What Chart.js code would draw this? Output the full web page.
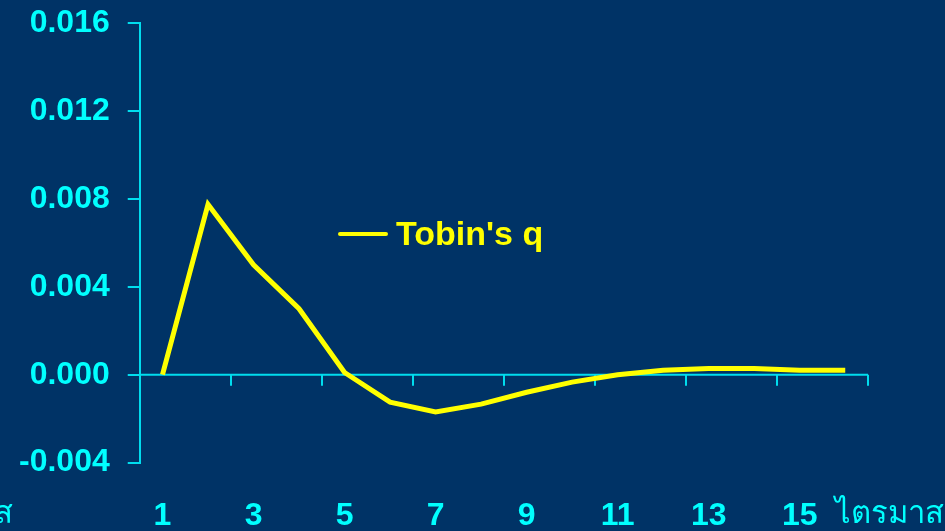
<!DOCTYPE html>
<html>
<head>
<meta charset="utf-8">
<title>Tobin's q</title>
<script src="https://cdn.jsdelivr.net/npm/chart.js@4.4.1/dist/chart.umd.min.js"></script>
<style>
  html, body { margin: 0; padding: 0; background: #003366; }
  #wrap { width: 945px; height: 531px; }
</style>
</head>
<body>
<div id="wrap"><canvas id="mainChart" width="945" height="531"></canvas></div>
<script>
// --- Data ---
const quarters = ['1', '2', '3', '4', '5', '6', '7', '8', '9', '10', '11', '12', '13', '14', '15', '16'];
const tobinQ = [0.0000, 0.00775, 0.0050, 0.0030, 0.0001, -0.00125, -0.0017, -0.00134, -0.0008, -0.00034,
                0.0000, 0.0002, 0.00028, 0.00028, 0.0002, 0.0002];
const yTicks = [-0.004, 0.000, 0.004, 0.008, 0.012, 0.016];
const xAxisTitle = 'ไตรมาส';

const BG = '#003366';
const CYAN = '#00FFFF';
const AXIS = '#00DDEE';
const YELLOW = '#FFFF00';
const BOLD_FONT = { family: '"Liberation Sans", Arial, sans-serif', size: 32, weight: 'bold' };

// background fill
const background = {
    id: 'background',
    beforeDraw(chart) {
        const ctx = chart.ctx;
        ctx.save();
        ctx.fillStyle = BG;
        ctx.fillRect(0, 0, chart.width, chart.height);
        ctx.restore();
    }
};

// horizontal axis drawn along y = 0, tick marks every second category boundary
const zeroAxis = {
    id: 'zeroAxis',
    beforeDatasetsDraw(chart) {
        const { ctx, chartArea, scales } = chart;
        const x = scales.x, y = scales.y;
        const y0 = y.getPixelForValue(0);
        const half = (x.getPixelForValue(1) - x.getPixelForValue(0)) / 2;
        ctx.save();
        ctx.strokeStyle = AXIS;
        ctx.lineWidth = 2;
        ctx.beginPath();
        ctx.moveTo(chartArea.left, y0);
        ctx.lineTo(chartArea.right, y0);
        for (let k = 0; k <= quarters.length; k += 2) {
            const px = Math.round(x.getPixelForValue(k) - half);
            ctx.moveTo(px, y0);
            ctx.lineTo(px, y0 + 11);
        }
        ctx.stroke();
        ctx.restore();
    }
};

// legend sitting inside the plot + axis title text
const annotations = {
    id: 'annotations',
    afterDraw(chart) {
        const ctx = chart.ctx;
        const ds = chart.data.datasets[0];
        ctx.save();
        ctx.strokeStyle = ds.borderColor;
        ctx.lineWidth = 4;
        ctx.lineCap = 'round';
        ctx.beginPath();
        ctx.moveTo(340, 234);
        ctx.lineTo(386, 234);
        ctx.stroke();
        ctx.fillStyle = ds.borderColor;
        ctx.font = `bold 34px ${BOLD_FONT.family}`;
        ctx.textBaseline = 'middle';
        ctx.textAlign = 'left';
        ctx.fillText(ds.label, 396, 236);

        ctx.fillStyle = CYAN;
        ctx.font = '31px "Noto Sans", "DejaVu Sans", sans-serif';
        ctx.fillText(xAxisTitle, 835, 514);
        ctx.textAlign = 'right';
        ctx.fillText(xAxisTitle, 13, 514);
        ctx.restore();
    }
};

const ctxMain = document.getElementById('mainChart').getContext('2d');
new Chart(ctxMain, {
    type: 'line',
    data: {
        labels: quarters,
        datasets: [{
            label: "Tobin's q",
            data: tobinQ,
            borderColor: YELLOW,
            borderWidth: 5,
            pointRadius: 0,
            tension: 0,
            fill: false
        }]
    },
    options: {
        responsive: false,
        animation: false,
        layout: { padding: { left: 1, right: 77, top: 23, bottom: -38 } },
        plugins: {
            legend: { display: false },
            tooltip: { enabled: false }
        },
        scales: {
            x: {
                type: 'category',
                offset: true,
                grid: { display: false, drawTicks: false },
                border: { display: false },
                ticks: {
                    color: CYAN,
                    font: BOLD_FONT,
                    padding: 34,
                    autoSkip: false,
                    maxRotation: 0,
                    callback: (v, i) => (i % 2 === 0 ? quarters[i] : '')
                }
            },
            y: {
                min: -0.004,
                max: 0.016,
                afterBuildTicks: (axis) => { axis.ticks = yTicks.map(v => ({ value: v })); },
                grid: { drawOnChartArea: false, drawTicks: true, tickLength: 12, color: AXIS, lineWidth: 2 },
                border: { color: AXIS, width: 2 },
                ticks: {
                    color: CYAN,
                    // small lineHeight keeps the top label from pushing the plot down
                    font: { ...BOLD_FONT, lineHeight: 0.25 },
                    padding: 18,
                    callback: (v) => v.toFixed(3)
                }
            }
        }
    },
    plugins: [background, zeroAxis, annotations]
});
</script>
</body>
</html>
